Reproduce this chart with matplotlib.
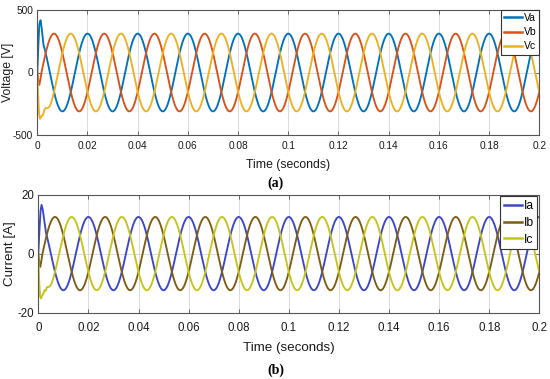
import numpy as np
import matplotlib
matplotlib.use("Agg")
import matplotlib.pyplot as plt
from matplotlib.ticker import FuncFormatter

# ---------------- data ----------------
freq_hz = 50.0
t_end = 0.2

# steady-state sinusoid parameters
v_amp = 311.0
i_amp = 12.4
phases_deg = {"a": 0.0, "b": -120.0, "c": 120.0}   # cosine phase

# start-up transients (time [s], value)
va_tr_t = [0.0, 0.0004, 0.0008, 0.0013, 0.0018, 0.0024]
va_tr_v = [0.0, 210.0, 385.0, 418.0, 345.0, 235.0]
vb_tr_t = [0.0, 0.0004, 0.0008, 0.0012, 0.0016]
vb_tr_v = [0.0, -60.0, -100.0, -60.0, -5.0]
vc_tr_t = [0.0, 0.0003, 0.0007, 0.0011, 0.0015, 0.0019, 0.0023, 0.0028, 0.0033, 0.0039, 0.0045, 0.0050]
vc_tr_v = [0.0, -170.0, -330.0, -370.0, -355.0, -345.0, -340.0, -300.0, -285.0, -285.0, -280.0, -270.0]

ia_tr_t = [0.0, 0.0004, 0.0009, 0.0013, 0.0018, 0.0024, 0.0030]
ia_tr_v = [0.0, 7.0, 14.5, 16.5, 14.8, 11.0, 7.5]
ib_tr_t = [0.0, 0.0004, 0.0008, 0.0012, 0.0016]
ib_tr_v = [0.0, -3.0, -4.5, -2.5, 0.0]
ic_tr_t = [0.0, 0.0003, 0.0007, 0.0011, 0.0015, 0.0020, 0.0025, 0.0030, 0.0035, 0.0041, 0.0047, 0.0052]
ic_tr_v = [0.0, -8.0, -14.5, -15.2, -14.2, -13.6, -12.4, -12.6, -11.3, -11.3, -11.0, -10.4]

x_ticks = [0, 0.02, 0.04, 0.06, 0.08, 0.1, 0.12, 0.14, 0.16, 0.18, 0.2]
v_ticks = [-500, 0, 500]
i_ticks = [-20, 0, 20]

v_labels = ["Va", "Vb", "Vc"]
i_labels = ["Ia", "Ib", "Ic"]
v_colors = ["#0072BD", "#D95319", "#EDB120"]
i_colors = ["#3C46C8", "#7E5C14", "#C6C41A"]


def wave(amp, phase_deg, tr_t, tr_v):
    t0 = tr_t[-1]
    ts = np.arange(t0, t_end + 1e-9, 2e-5)
    vs = amp * np.cos(2 * np.pi * freq_hz * ts + np.deg2rad(phase_deg))
    return np.concatenate([tr_t[:-1], ts]), np.concatenate([tr_v[:-1], vs])


v_series = [
    wave(v_amp, phases_deg["a"], va_tr_t, va_tr_v),
    wave(v_amp, phases_deg["b"], vb_tr_t, vb_tr_v),
    wave(v_amp, phases_deg["c"], vc_tr_t, vc_tr_v),
]
i_series = [
    wave(i_amp, phases_deg["a"], ia_tr_t, ia_tr_v),
    wave(i_amp, phases_deg["b"], ib_tr_t, ib_tr_v),
    wave(i_amp, phases_deg["c"], ic_tr_t, ic_tr_v),
]

# ---------------- figure ----------------
plt.rcParams["font.family"] = ["Liberation Sans", "DejaVu Sans"]
W, H = 550, 379
fig = plt.figure(figsize=(W / 100, H / 100), dpi=100)
fig.patch.set_facecolor("white")

def px_axes(x0, y0, x1, y1):
    return fig.add_axes([x0 / W, 1 - y1 / H, (x1 - x0) / W, (y1 - y0) / H])

ax1 = px_axes(37.3, 10, 539.3, 135)
ax2 = px_axes(38.3, 194.5, 539.3, 312.7)

fmt = FuncFormatter(lambda v, p: f"{v:g}")

def style(ax, yticks, ylim, tick_fs, label_fs, ylabel, ylabel_x, xlabel_y, pad_x):
    ax.set_xlim(0, t_end)
    ax.set_ylim(*ylim)
    ax.set_xticks(x_ticks)
    ax.set_yticks(yticks)
    ax.xaxis.set_major_formatter(fmt)
    ax.yaxis.set_major_formatter(fmt)
    ax.grid(True, color="#d4d4d4", lw=0.6)
    ax.set_axisbelow(True)
    for s in ax.spines.values():
        s.set_color("#555555")
        s.set_linewidth(0.8)
    ax.tick_params(direction="in", length=3, width=0.6, color="#555555",
                   top=True, right=True, labelsize=tick_fs, labelcolor="#1a1a1a")
    ax.tick_params(axis="x", pad=pad_x)
    ax.tick_params(axis="y", pad=3)
    ax.set_ylabel(ylabel, fontsize=label_fs, color="#1a1a1a")
    ax.yaxis.label.set_va("center")
    ax.yaxis.set_label_coords(ylabel_x, 0.5)
    ax.set_xlabel("Time (seconds)", fontsize=label_fs, color="#1a1a1a")
    ax.xaxis.label.set_va("center")
    ax.xaxis.set_label_coords(0.5, xlabel_y)

for (t, v), c, lab in zip(v_series, v_colors, v_labels):
    ax1.plot(t, v, color=c, lw=1.35, label=lab)
for (t, v), c, lab in zip(i_series, i_colors, i_labels):
    ax2.plot(t, v, color=c, lw=1.35, label=lab)

style(ax1, v_ticks, (-500, 500), 7.3, 8.8, "Voltage [V]", (8.3 - 37.3) / 502, (135 - 165) / 125, 4.5)
style(ax2, i_ticks, (-20, 20), 8.3, 9.6, "Current [A]", (10.5 - 38.3) / 501, (312.7 - 348.3) / 118.2, 6.5)

leg1 = ax1.legend(loc="upper right", fontsize=7.5, frameon=True, fancybox=False,
                  edgecolor="#333333", framealpha=1, borderaxespad=0,
                  handlelength=1.75, handletextpad=0.15, labelspacing=0.4,
                  borderpad=0.3)
leg1.get_frame().set_linewidth(0.8)
for l in leg1.get_lines():
    l.set_linewidth(1.8)

leg2 = ax2.legend(loc="upper right", fontsize=8.7, frameon=True, fancybox=False,
                  edgecolor="#333333", framealpha=1, borderaxespad=0.15,
                  handlelength=1.5, handletextpad=0.15, labelspacing=0.4,
                  borderpad=0.3)
leg2.get_frame().set_linewidth(0.8)
for l in leg2.get_lines():
    l.set_linewidth(1.8)

fig.text(275.7 / W, 1 - 183.3 / H, "(a)", ha="center", va="center",
         fontsize=10, fontweight="bold", family=["Liberation Serif", "DejaVu Serif"])
fig.text(275.5 / W, 1 - 370 / H, "(b)", ha="center", va="center",
         fontsize=10, fontweight="bold", family=["Liberation Serif", "DejaVu Serif"])

fig.savefig("out.png", dpi=100)
